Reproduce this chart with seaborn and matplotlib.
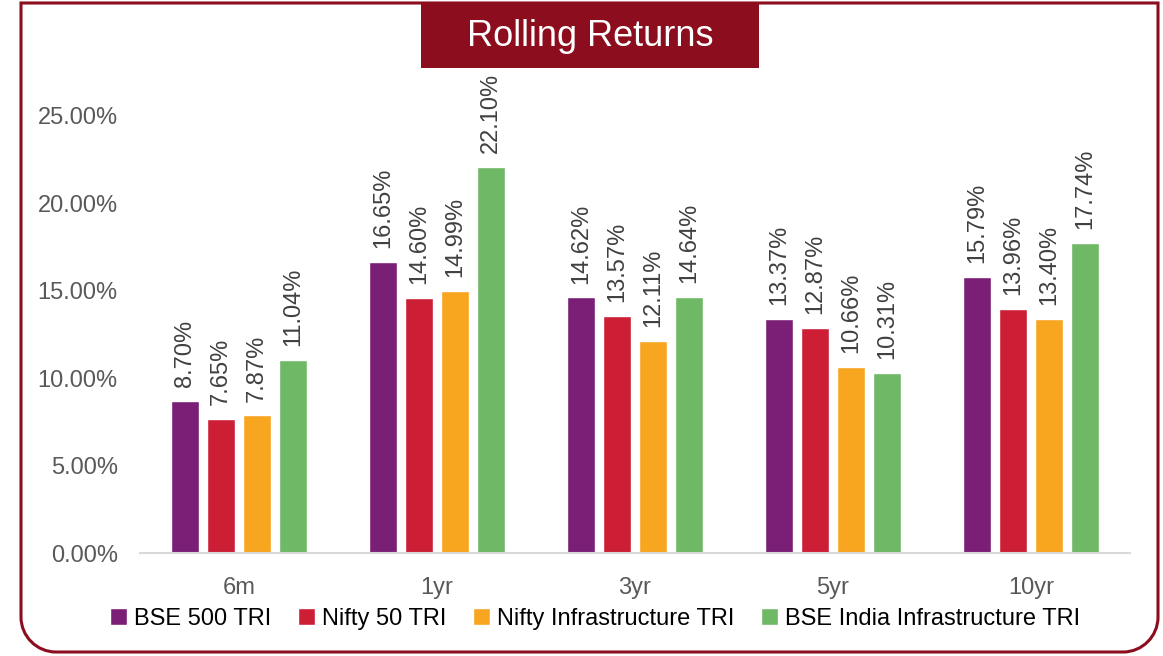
import numpy as np
import pandas as pd
import matplotlib
matplotlib.use("Agg")
import matplotlib.pyplot as plt
import seaborn as sns
from matplotlib.patches import Rectangle, PathPatch
from matplotlib.path import Path

# data
periods = ["6m", "1yr", "3yr", "5yr", "10yr"]
bse500 = [8.70, 16.65, 14.62, 13.37, 15.79]
nifty50 = [7.65, 14.60, 13.57, 12.87, 13.96]
nifty_infra = [7.87, 14.99, 12.11, 10.66, 13.40]
bse_infra = [11.04, 22.10, 14.64, 10.31, 17.74]
series = ["BSE 500 TRI", "Nifty 50 TRI", "Nifty Infrastructure TRI", "BSE India Infrastructure TRI"]
colors = ["#7B1F76", "#CC1F36", "#F8A51F", "#6FB865"]

df = pd.DataFrame({"period": periods, series[0]: bse500, series[1]: nifty50,
                   series[2]: nifty_infra, series[3]: bse_infra})
long = df.melt(id_vars="period", var_name="index", value_name="ret")

sns.set_style("white")
plt.rcParams['font.family'] = ['Liberation Sans', 'DejaVu Sans']

W, H = 1163, 656
fig = plt.figure(figsize=(W / 100, H / 100), dpi=100)

def fx(px):
    return px / W

def fy(py):
    return 1 - py / H

ax = fig.add_axes([fx(140), fy(553), fx(1130) - fx(140), fy(116) - fy(553)])
sns.barplot(data=long, x="period", y="ret", hue="index", palette=colors,
            width=0.73, gap=0.22, saturation=1, ax=ax, legend=True)

ax.set_ylim(0, 25)
ax.set_yticks([0, 5, 10, 15, 20, 25])
ax.set_yticklabels([f"{v:.2f}%" for v in [0, 5, 10, 15, 20, 25]])
ax.set_xlabel("")
ax.set_ylabel("")
ax.tick_params(axis="y", labelsize=17, colors="#595959", length=0, pad=16)
ax.tick_params(axis="x", labelsize=17, colors="#595959", length=0, pad=17)
for s in ["top", "right", "left"]:
    ax.spines[s].set_visible(False)
ax.spines["bottom"].set_color("#D9D9D9")
ax.spines["bottom"].set_linewidth(1.5)

for cont in ax.containers:
    ax.bar_label(cont, labels=[f"{v:.2f}%" for v in cont.datavalues],
                 rotation=90, padding=10, fontsize=17, color="#404040", clip_on=False)

handles, labels = ax.get_legend_handles_labels()
ax.get_legend().remove()
fig.legend(handles, labels, loc="center", bbox_to_anchor=(fx(595), fy(619)), ncol=4,
           frameon=False, fontsize=17, handlelength=0.7, handleheight=0.7,
           handletextpad=0.3, columnspacing=1.15, labelcolor="black")

# frame with rounded bottom corners
L, R, T, B, r = fx(21), fx(1158), fy(3), fy(652), 35
rx, ry = r / W, r / H
k = 0.5523
verts = [(L, T), (L, B + ry),
         (L, B + ry - k * ry), (L + rx - k * rx, B), (L + rx, B),
         (R - rx, B),
         (R - rx + k * rx, B), (R, B + ry - k * ry), (R, B + ry),
         (R, T), (L, T)]
codes = [Path.MOVETO, Path.LINETO, Path.CURVE4, Path.CURVE4, Path.CURVE4,
         Path.LINETO, Path.CURVE4, Path.CURVE4, Path.CURVE4, Path.LINETO, Path.CLOSEPOLY]
fig.patches.append(PathPatch(Path(verts, codes), transform=fig.transFigure,
                             facecolor="none", edgecolor="#8B0D1E", linewidth=2.2))

# title box
fig.patches.append(Rectangle((fx(421), fy(68)), fx(759) - fx(421), fy(3) - fy(68),
                             transform=fig.transFigure, facecolor="#8B0D1E",
                             edgecolor="none", zorder=3))
fig.text(fx(590), fy(37), "Rolling Returns", color="white", fontsize=26,
         ha="center", va="center", zorder=4)

fig.savefig("out.png", dpi=100)
